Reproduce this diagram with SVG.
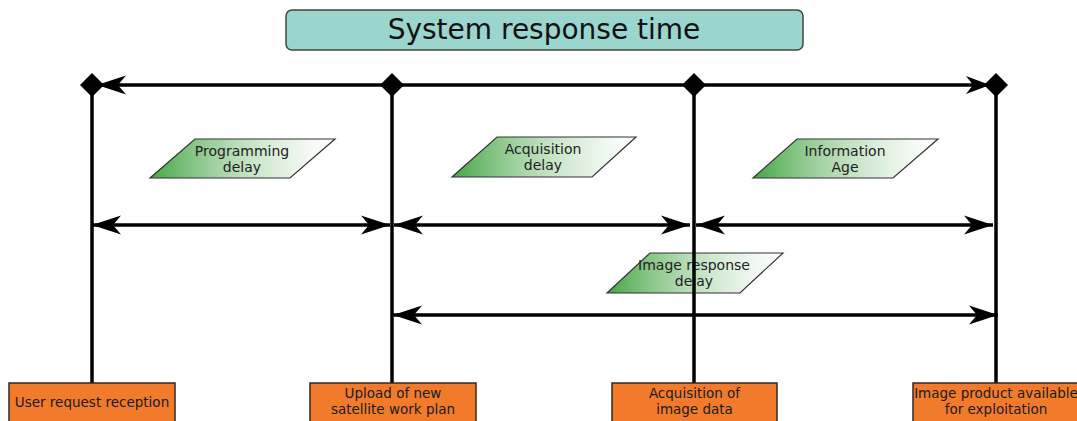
<svg xmlns="http://www.w3.org/2000/svg" width="1077" height="421" viewBox="0 0 1077 421">
<style>
.vl{stroke:#000;stroke-width:3.5;fill:none}
.ar{stroke:#000;stroke-width:3.5;fill:none;marker-start:url(#ah);marker-end:url(#ah)}
.dm{fill:#000}
.pg{fill:url(#gr);stroke:#333;stroke-width:1.2}
.lb{font-family:"DejaVu Sans",sans-serif;font-size:14px;fill:#222;text-anchor:middle}
.bx{fill:#f27b2b;stroke:#2a2a2a;stroke-width:1.5}
.bt{font-family:"DejaVu Sans",sans-serif;font-size:13.5px;fill:#1a1a1a;text-anchor:middle}
</style>
<defs>
<linearGradient id="gr" x1="0" y1="0" x2="1" y2="0">
<stop offset="0" stop-color="#46a646" stop-opacity="1"/>
<stop offset="1" stop-color="#ffffff" stop-opacity="0.4"/>
</linearGradient>
<marker id="ah" markerUnits="userSpaceOnUse" orient="auto-start-reverse" markerWidth="40" markerHeight="30" refX="0" refY="0" viewBox="-32 -15 40 30" overflow="visible">
<path d="M0,0 L-29,-9.5 L-21,0 L-29,9.5 Z" fill="#000"/>
</marker>
</defs>
<g id="title">
<rect x="286" y="10" width="517" height="40" rx="6" fill="#9ad5ce" stroke="#444" stroke-width="1.5"/>
<text x="544" y="39" font-family="DejaVu Sans,sans-serif" font-size="28" fill="#111" text-anchor="middle">System response time</text>
</g>
<g id="labels">
<g id="programming-delay">
<polygon class="pg" points="195,139 335,139 290,178 150,178"/>
<text class="lb" x="242" y="156">Programming</text>
<text class="lb" x="242" y="172">delay</text>
</g>
<g id="acquisition-delay">
<polygon class="pg" points="497,137 636,137 592,177 452,177"/>
<text class="lb" x="543" y="154">Acquisition</text>
<text class="lb" x="543" y="170">delay</text>
</g>
<g id="information-age">
<polygon class="pg" points="797,139 938,139 893,178 753,178"/>
<text class="lb" x="845" y="156">Information</text>
<text class="lb" x="845" y="172">Age</text>
</g>
<g id="image-response-delay">
<polygon class="pg" points="650,253 783,253 740,293 607,293"/>
<text class="lb" x="694" y="270">Image response</text>
<text class="lb" x="694" y="286">delay</text>
</g>
</g>
<g id="connectors">
<line class="vl" x1="92" y1="85" x2="92" y2="383"/>
<line class="vl" x1="392" y1="85" x2="392" y2="383"/>
<line class="vl" x1="694" y1="85" x2="694" y2="383"/>
<line class="vl" x1="996" y1="85" x2="996" y2="383"/>
<line class="vl" x1="100" y1="85" x2="990" y2="85"/>
<path d="M97,85 L126,75.5 L118,85 L126,94.5 Z" fill="#000"/>
<path d="M990,85 L966,76 L973,85 L966,94 Z" fill="#000"/>
<line class="ar" x1="92" y1="225" x2="390" y2="225"/>
<line class="ar" x1="394" y1="225" x2="690" y2="225"/>
<line class="ar" x1="696" y1="225" x2="993" y2="225"/>
<line class="ar" x1="393" y1="315" x2="998" y2="315"/>
<polygon class="dm" points="92,73 104,85 92,97 80,85"/>
<polygon class="dm" points="392,73 404,85 392,97 380,85"/>
<polygon class="dm" points="694,73 706,85 694,97 682,85"/>
<polygon class="dm" points="996,73 1008,85 996,97 984,85"/>
</g>
<g id="user-request">
<rect class="bx" x="9" y="383" width="166" height="45"/>
<text class="bt" x="92" y="407">User request reception</text>
</g>
<g id="upload">
<rect class="bx" x="310" y="383" width="166" height="45"/>
<text class="bt" x="393" y="398">Upload of new</text>
<text class="bt" x="393" y="414">satellite work plan</text>
</g>
<g id="acquisition">
<rect class="bx" x="612" y="383" width="165" height="45"/>
<text class="bt" x="694.5" y="398">Acquisition of</text>
<text class="bt" x="694.5" y="414">image data</text>
</g>
<g id="product">
<rect class="bx" x="913" y="383" width="170" height="45"/>
<text class="bt" x="996" y="398">Image product available</text>
<text class="bt" x="996" y="414">for exploitation</text>
</g>
</svg>
